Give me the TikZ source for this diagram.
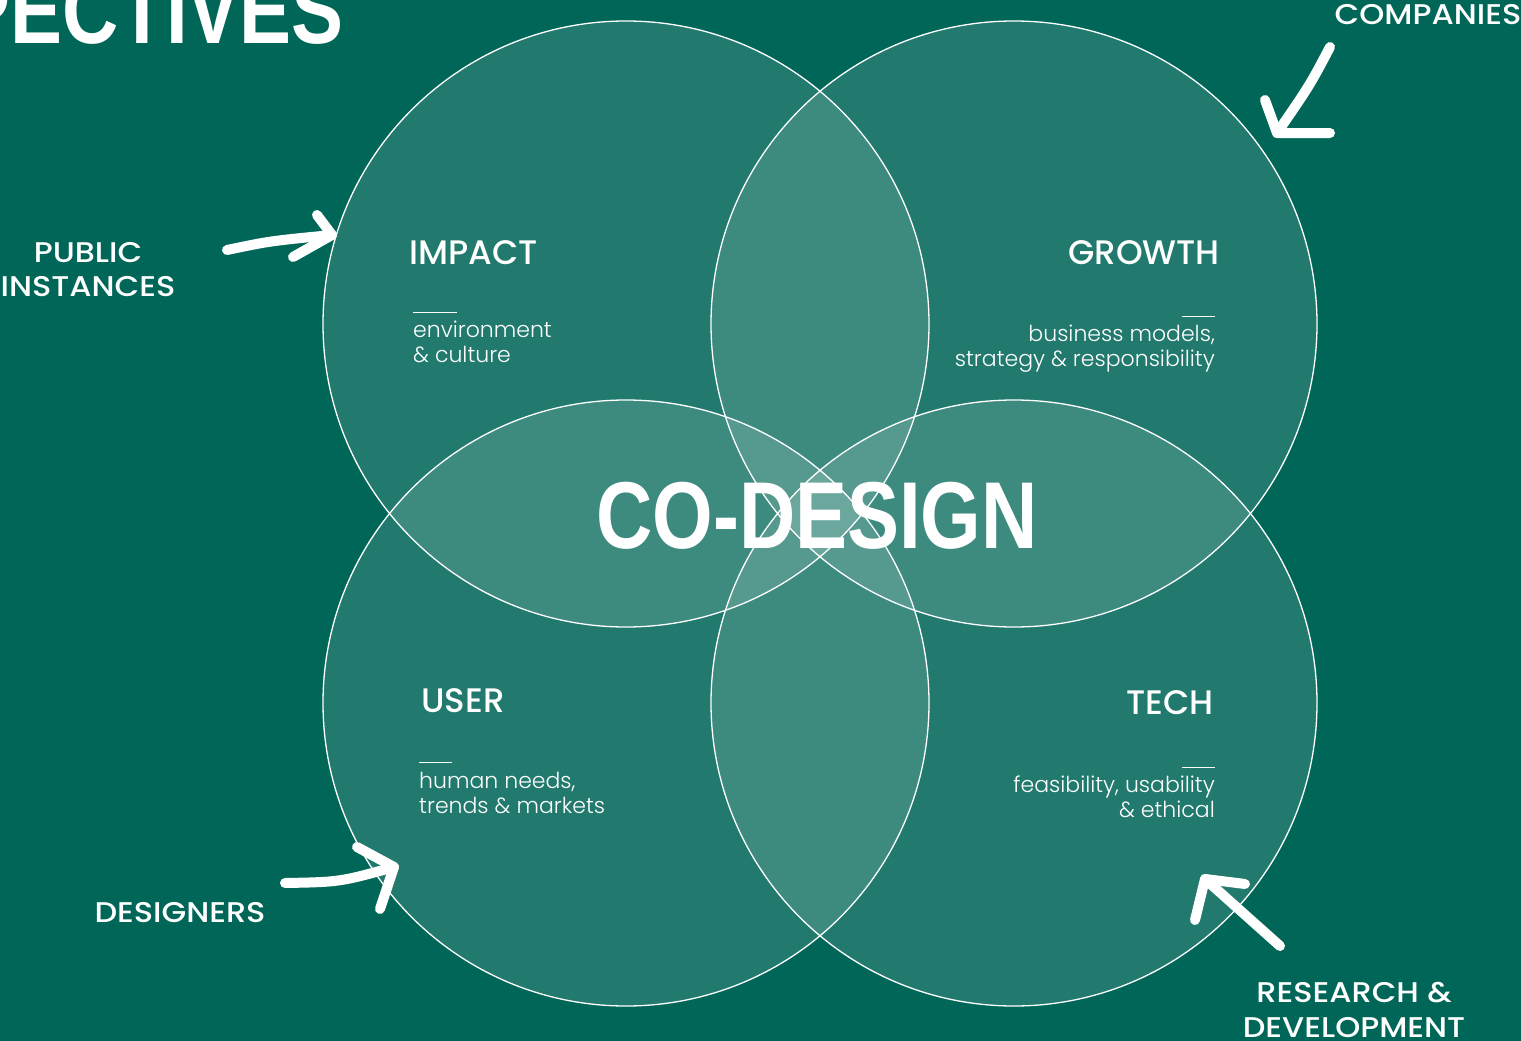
\documentclass[tikz,border=0pt]{standalone}
\usepackage{fontspec}
\setmainfont{Poppins}
\newfontfamily\fontlight{Poppins Light}
\newfontfamily\fontmedium{Poppins Medium}
\newfontfamily\fontlarge{Poppins Medium}[FakeStretch=1.12]
\newfontfamily\fontcond{Liberation Sans Bold}[FakeStretch=0.82]
\usepackage{tikz}
\usetikzlibrary{
	calc,
	positioning
	}
\definecolor{fond}{HTML}{006758}
\tikzstyle{cercle-std}=[circle,draw=white,line width=1.3pt,fill=white,fill opacity=0.13,draw opacity=1,minimum size=606pt,inner sep=0pt]
\tikzstyle{titre-std}=[inner sep=0pt,text=white,font=\fontmedium\fontsize{34}{40}\selectfont]
\tikzstyle{texte-std}=[inner sep=0pt,text=white,font=\fontlight\fontsize{22}{25}\selectfont]
\tikzstyle{acteur-std}=[inner sep=0pt,text=white,anchor=base,font=\fontlarge\fontsize{28.5}{34}\selectfont]
\tikzstyle{gros-std}=[inner sep=0pt,text=white,font=\fontcond\fontsize{95}{100}\selectfont]
\tikzstyle{fleche-std}=[white,line width=10pt,line cap=round,line join=round]
\tikzstyle{trait-std}=[white,line width=1pt]

\begin{document}
\begin{tikzpicture}[x=1pt,y=-1pt]
\fill[fond] (0,0) rectangle (1521,1041);
\useasboundingbox (0,0) rectangle (1521,1041);
\clip (0,0) rectangle (1521,1041);

\node[gros-std,anchor=base east] (titre) at (344,44) {PECTIVES};

\node[cercle-std] (cercle1) at (626,324) {};
\node[cercle-std] (cercle2) at (1014,324) {};
\node[cercle-std] (cercle3) at (626,703) {};
\node[cercle-std] (cercle4) at (1014,703) {};

\node[gros-std,anchor=base] (codesign) at (817,548) {CO-DESIGN};

% impact
\node[titre-std,anchor=base west] (impact) at (409,264) {IMPACT};
\draw[trait-std] (413,312) -- (457,312);
\node[texte-std,anchor=base west] (impact1) at (413,337) {environment};
\node[texte-std,anchor=base west] (impact2) at (413,362) {\& culture};

% growth
\node[titre-std,anchor=base east] (growth) at (1220,264) {GROWTH};
\draw[trait-std] (1182,316) -- (1215,316);
\node[texte-std,anchor=base east] (growth1) at (1215,341) {business models,};
\node[texte-std,anchor=base east] (growth2) at (1215,366) {strategy \& responsibility};

% user
\node[titre-std,anchor=base west] (user) at (421,712) {USER};
\draw[trait-std] (419,762) -- (452,762);
\node[texte-std,anchor=base west] (user1) at (419,788) {human needs,};
\node[texte-std,anchor=base west] (user2) at (419,813) {trends \& markets};

% tech
\node[titre-std,anchor=base east] (tech) at (1214,714) {TECH};
\draw[trait-std] (1182,767) -- (1215,767);
\node[texte-std,anchor=base east] (tech1) at (1215,792) {feasibility, usability};
\node[texte-std,anchor=base east] (tech2) at (1215,817) {\& ethical};

% acteurs
\node[acteur-std] (public1) at (88,262) {PUBLIC};
\node[acteur-std] (public2) at (88,296) {INSTANCES};
\node[acteur-std] (companies) at (1428,25) {COMPANIES};
\node[acteur-std] (designers) at (180,922) {DESIGNERS};
\node[acteur-std] (research1) at (1354,1002) {RESEARCH \&};
\node[acteur-std] (research2) at (1354,1037) {DEVELOPMENT};

% fleches
\coordinate (p0) at (227,250);
\coordinate (p1) at (332,235);
\draw[fleche-std] (p0) .. controls (270,241) .. (p1);
\draw[fleche-std] (317,215) -- (p1) -- (293,257);

\coordinate (c0) at (1330,47);
\coordinate (c1) at (1277,133);
\draw[fleche-std] (c0) .. controls (1310,85) .. (c1);
\draw[fleche-std] (1265,100) -- (c1) -- (1330,133);

\coordinate (d0) at (285,883);
\coordinate (d1) at (394,867);
\draw[fleche-std] (d0) .. controls (340,882) .. (d1);
\draw[fleche-std] (357,847) -- (d1) -- (380,909);

\coordinate (r0) at (1280,946);
\coordinate (r1) at (1205,879);
\draw[fleche-std] (r0) -- (r1);
\draw[fleche-std] (1245,884) -- (r1) -- (1195,920);
\end{tikzpicture}
\end{document}
